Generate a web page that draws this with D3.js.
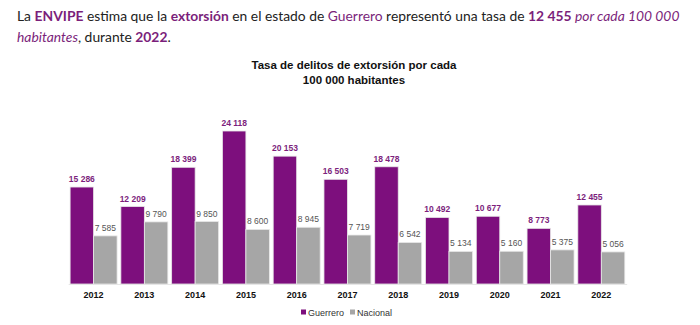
<!DOCTYPE html>
<html>
<head>
<meta charset="utf-8">
<style>
  body { margin: 0; background: #fff; }
  .intro { font-family: Lato, "Open Sans", sans-serif; font-size: 15.5px; fill: #222; }
  .intro .hl { fill: #7b1f7b; }
</style>
</head>
<body>
<script src="https://d3js.org/d3.v7.min.js"></script>
<script>
// Tasa de extorsión por cada 100 000 habitantes (ENVIPE)
var years    = ["2012","2013","2014","2015","2016","2017","2018","2019","2020","2021","2022"];
var guerrero = [15286, 12209, 18399, 24118, 20153, 16503, 18478, 10492, 10677, 8773, 12455];
var nacional = [7585, 9790, 9850, 8600, 8945, 7719, 6542, 5134, 5160, 5375, 5056];
var series   = ["Guerrero", "Nacional"];
var colores  = ["#7d0f7d", "#a6a6a6"];

var W = 700, H = 325;
var svg = d3.select("body").append("svg").attr("width", W).attr("height", H);

var fmt = d3.formatLocale({decimal: ".", thousands: " ", grouping: [3], currency: ["", ""]}).format(",d");

// texto introductorio
var intro = svg.append("text").attr("class", "intro");
var l1 = intro.append("tspan").attr("x", 17).attr("y", 21);
l1.append("tspan").text("La ");
l1.append("tspan").attr("class", "hl").attr("font-weight", "bold").text("ENVIPE");
l1.append("tspan").text(" estima que la ");
l1.append("tspan").attr("class", "hl").attr("font-weight", "bold").text("extorsión");
l1.append("tspan").text(" en el estado de ");
l1.append("tspan").attr("class", "hl").text("Guerrero");
l1.append("tspan").text(" representó una tasa de ");
l1.append("tspan").attr("class", "hl").attr("font-weight", "bold").text("12 455 ");
l1.append("tspan").attr("class", "hl").attr("font-style", "italic").text("por cada 100 000");
var l2 = intro.append("tspan").attr("x", 17).attr("y", 42);
l2.append("tspan").attr("class", "hl").attr("font-style", "italic").text("habitantes");
l2.append("tspan").text(", durante ");
l2.append("tspan").attr("class", "hl").attr("font-weight", "bold").text("2022");
l2.append("tspan").text(".");

// ajustar el tamaño para que la primera línea quepa en 663px
var largo = l1.node().getComputedTextLength();
intro.style("font-size", (15.5 * 663 / largo) + "px");

// titulo de la grafica
var title = svg.append("text")
  .attr("text-anchor", "middle")
  .attr("font-family", "Liberation Sans, Arial, sans-serif")
  .attr("font-weight", "bold").attr("font-size", 11.5).attr("fill", "#111");
title.append("tspan").attr("x", 354).attr("y", 69).text("Tasa de delitos de extorsión por cada");
title.append("tspan").attr("x", 354).attr("y", 84).text("100 000 habitantes");

// escalas
var x = d3.scaleBand().domain(years).range([68.2, 626.7]).paddingInner(0.075).paddingOuter(0.0375);
var xs = d3.scaleBand().domain(series).range([0, x.bandwidth()]);
var y = d3.scaleLinear().domain([0, 24118]).range([284, 131]);

var data = years.map(function(yr, i) {
  return {year: yr, vals: [guerrero[i], nacional[i]]};
});

var g = svg.selectAll("g.grupo").data(data).enter().append("g")
  .attr("class", "grupo")
  .attr("transform", function(d) { return "translate(" + x(d.year) + ",0)"; });

g.selectAll("rect").data(function(d) { return d.vals; }).enter().append("rect")
  .attr("x", function(d, i) { return xs(series[i]); })
  .attr("y", function(d) { return y(d); })
  .attr("width", xs.bandwidth())
  .attr("height", function(d) { return y(0) - y(d); })
  .attr("fill", function(d, i) { return colores[i]; })
  .attr("stroke", "#e8e8e8").attr("stroke-width", 0.8);

g.selectAll("text.val").data(function(d) { return d.vals; }).enter().append("text")
  .attr("class", "val")
  .attr("x", function(d, i) { return xs(series[i]) + xs.bandwidth() / 2; })
  .attr("y", function(d) { return y(d) - 5; })
  .attr("text-anchor", "middle")
  .attr("font-family", "Liberation Sans, Arial, sans-serif")
  .attr("font-size", 8.5)
  .attr("font-weight", function(d, i) { return i === 0 ? "bold" : "normal"; })
  .attr("fill", function(d, i) { return i === 0 ? "#7d1f7d" : "#555"; })
  .text(function(d) { return fmt(d); });

// eje x
var ax = svg.append("g").attr("transform", "translate(0,284)")
  .call(d3.axisBottom(x).tickSize(0).tickPadding(8));
ax.select(".domain").attr("stroke", "#e6e6e6");
ax.selectAll("text")
  .attr("font-family", "Liberation Sans, Arial, sans-serif")
  .attr("font-size", 9).attr("font-weight", "bold").attr("fill", "#111");

// leyenda
var leg = svg.append("g").attr("transform", "translate(301,313)");
var li = leg.selectAll("g").data(series).enter().append("g")
  .attr("transform", function(d, i) { return "translate(" + (i * 49) + ",0)"; });
li.append("rect").attr("x", 0).attr("y", -3.5).attr("width", 5).attr("height", 5)
  .attr("fill", function(d, i) { return colores[i]; });
li.append("text").attr("x", 7).attr("y", 3)
  .attr("font-family", "Liberation Sans, Arial, sans-serif")
  .attr("font-size", 9).attr("fill", "#333")
  .text(function(d) { return d; });
</script>
</body>
</html>
